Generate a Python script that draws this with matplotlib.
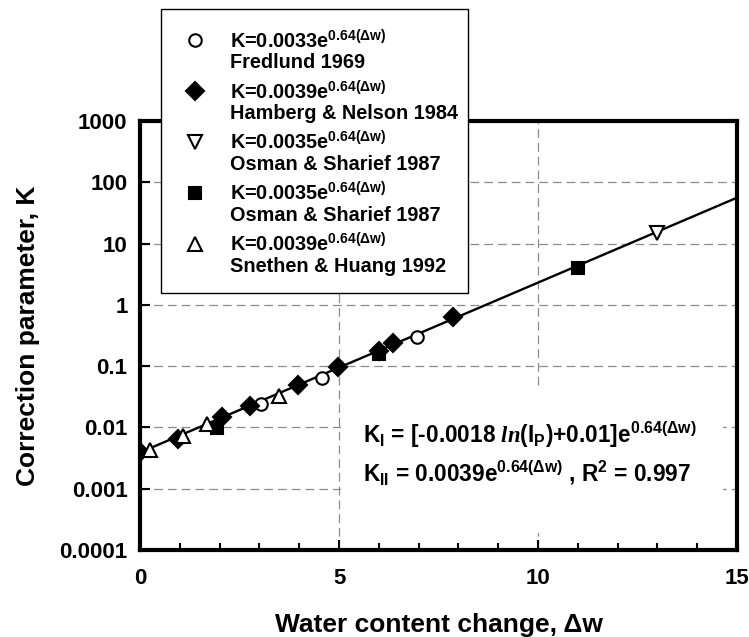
import matplotlib
matplotlib.use("Agg")
import matplotlib.pyplot as plt
import numpy as np
from matplotlib.patches import Rectangle
from matplotlib.legend_handler import HandlerLine2D
from matplotlib.ticker import FixedLocator, MultipleLocator

plt.rcParams['font.family'] = ['Liberation Sans', 'DejaVu Sans']
plt.rcParams['font.weight'] = 'bold'
plt.rcParams['axes.labelweight'] = 'bold'
plt.rcParams['mathtext.fontset'] = 'custom'
plt.rcParams['mathtext.rm'] = 'Liberation Sans:bold'
plt.rcParams['mathtext.bf'] = 'Liberation Sans:bold'
plt.rcParams['mathtext.it'] = 'Liberation Serif:italic:bold'
plt.rcParams['mathtext.default'] = 'rm'

# data
fred_dw = [3.04, 4.57, 6.96]
fred_k = [0.024, 0.064, 0.30]
hamb_dw = [0.0, 0.95, 2.06, 2.76, 3.97, 4.97, 6.0, 6.36, 7.86]
hamb_k = [0.0039, 0.0064, 0.0148, 0.0224, 0.049, 0.097, 0.175, 0.24, 0.63]
osm1_dw = [13.0]
osm1_k = [15.0]
osm2_dw = [1.93, 6.0, 11.0]
osm2_k = [0.0098, 0.155, 4.0]
sneth_dw = [0.25, 1.08, 1.68, 3.49]
sneth_k = [0.0043, 0.0072, 0.0112, 0.032]

fit_dw = [0, 15]
fit_k = [0.0039, 56.0]

labels = [
    "K=0.0033e$^{0.64(\\Delta w)}$\nFredlund 1969",
    "K=0.0039e$^{0.64(\\Delta w)}$\nHamberg & Nelson 1984",
    "K=0.0035e$^{0.64(\\Delta w)}$\nOsman & Sharief 1987",
    "K=0.0035e$^{0.64(\\Delta w)}$\nOsman & Sharief 1987",
    "K=0.0039e$^{0.64(\\Delta w)}$\nSnethen & Huang 1992",
]
yticks = [1e-4, 1e-3, 1e-2, 1e-1, 1, 10, 100, 1000]
ytick_labels = ["0.0001", "0.001", "0.01", "0.1", "1", "10", "100", "1000"]


class UpperHandler(HandlerLine2D):
    # put the legend marker next to the first line of the label
    def create_artists(self, legend, orig_handle, xdescent, ydescent,
                       width, height, fontsize, trans):
        arts = super().create_artists(legend, orig_handle, xdescent, ydescent,
                                      width, height, fontsize, trans)
        for a in arts:
            a.set_ydata(np.asarray(a.get_ydata()) + 0.55 * fontsize)
        return arts


fig = plt.figure(figsize=(7.49, 6.37), dpi=100)
ax = fig.add_axes([0.187, 0.1366, 0.797, 0.6735])

ax.plot(fit_dw, fit_k, color='black', lw=1.7, zorder=3)

ms = dict(linestyle='none', markeredgecolor='black', markeredgewidth=1.5, zorder=4)
h1, = ax.plot(fred_dw, fred_k, 'o', ms=9, mfc='white', label=labels[0], **ms)
h2, = ax.plot(hamb_dw, hamb_k, 'D', ms=9.5, mfc='black', label=labels[1], **ms)
h3, = ax.plot(osm1_dw, osm1_k, 'v', ms=10, mfc='white', label=labels[2], **ms)
h4, = ax.plot(osm2_dw, osm2_k, 's', ms=8, mfc='black', label=labels[3], **ms)
h5, = ax.plot(sneth_dw, sneth_k, '^', ms=10, mfc='white', label=labels[4], **ms)

ax.set_yscale('log')
ax.set_xlim(0, 15)
ax.set_ylim(1e-4, 1e3)
ax.xaxis.set_major_locator(FixedLocator([0, 5, 10, 15]))
ax.xaxis.set_minor_locator(MultipleLocator(1))
ax.yaxis.set_major_locator(FixedLocator(yticks))
ax.set_yticklabels(ytick_labels)
ax.yaxis.set_minor_locator(FixedLocator([]))
ax.tick_params(axis='both', which='major', direction='in', length=7, width=1.5, labelsize=16)
ax.tick_params(axis='x', which='major', pad=13)
ax.tick_params(axis='y', which='major', pad=9)
ax.tick_params(axis='x', which='minor', direction='in', length=5, width=1.5)

ax.set_axisbelow(True)
ax.grid(True, which='major', color='#8c8c8c', linestyle=(0, (7, 4)), linewidth=0.9)
for sp in ax.spines.values():
    sp.set_linewidth(3)

# white box behind the equations
ax.add_patch(Rectangle((0.337, 0.04), 0.64, 0.34, transform=ax.transAxes,
                       facecolor='white', edgecolor='none', zorder=1))
ax.text(0.373, 0.27,
        "K$_\\mathrm{I}$ = [-0.0018 $\\mathit{ln}$(I$_\\mathrm{P}$)+0.01]e$^{0.64(\\Delta w)}$",
        transform=ax.transAxes, fontsize=16.3, va='center', zorder=2)
ax.text(0.373, 0.18,
        "K$_\\mathrm{II}$ = 0.0039e$^{0.64(\\Delta w)}$ , R$^2$ = 0.997",
        transform=ax.transAxes, fontsize=16.3, va='center', zorder=2)

ax.set_xlabel("Water content change, \u0394w", fontsize=19, labelpad=17)
ax.set_ylabel("Correction parameter, K", fontsize=19, labelpad=14)

# legend frame drawn separately so the padding can differ per side
ax.add_patch(Rectangle((0.215, 0.540), 0.41, 0.4458, transform=fig.transFigure,
                       facecolor='white', edgecolor='black', linewidth=1.0,
                       clip_on=False, zorder=9))
leg = ax.legend(handles=[h1, h2, h3, h4, h5],
                handler_map={h: UpperHandler(numpoints=1) for h in [h1, h2, h3, h4, h5]},
                loc='upper left', bbox_to_anchor=(0.239, 0.9545),
                bbox_transform=fig.transFigure, borderaxespad=0,
                fontsize=14.3, frameon=False, borderpad=0,
                handlelength=1.6, handletextpad=0.96, labelspacing=0.4)
for t in leg.get_texts():
    t.set_linespacing(1.05)
leg.set_zorder(10)

fig.savefig("out.png", dpi=100)
